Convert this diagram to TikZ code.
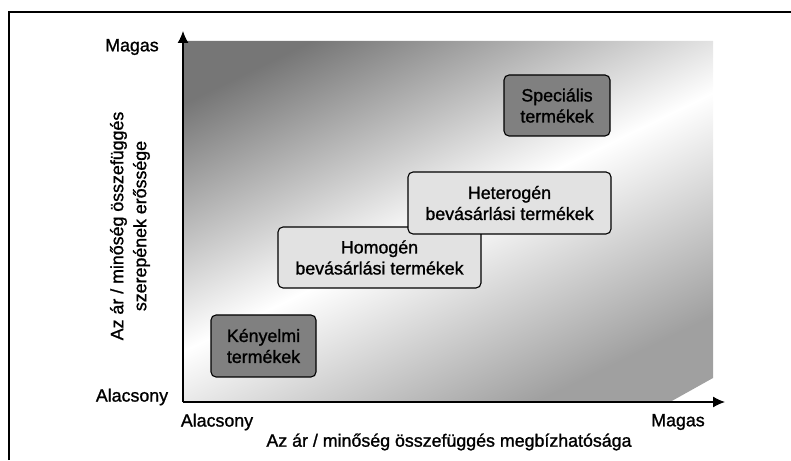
\documentclass[tikz,border=0pt]{standalone}
\usepackage{fontspec}
\setmainfont{Liberation Sans}[FakeBold=1.2]
\usetikzlibrary{arrows.meta,positioning}
\definecolor{darkfill}{RGB}{128,128,128}
\definecolor{lightfill}{RGB}{226,226,226}
\definecolor{planedark}{RGB}{118,118,118}
\definecolor{planelow}{RGB}{160,160,160}
\pgfdeclareverticalshading{planeshade}{100bp}{color(0bp)=(planelow); color(32bp)=(planelow); color(50bp)=(white); color(70bp)=(planedark); color(100bp)=(planedark)}
\tikzset{
  cat/.style={draw=black,line width=1.1pt,rounded corners=5pt,align=center,inner sep=0pt},
  darkcat/.style={cat,fill=darkfill},
  lightcat/.style={cat,fill=lightfill},
  axisline/.style={-{Latex[length=12pt,width=11pt]},draw=black,line width=1.3pt},
  lbl/.style={inner sep=1pt}
}

\begin{document}
\begin{tikzpicture}[x=1pt,y=1pt,font=\fontsize{17.8}{21}\selectfont]
  \useasboundingbox (0,0) rectangle (791,460);
  % frame
  \draw[line width=1.8pt] (9,0) -- (9,448) -- (791,448);
  % shaded plane with cut corner
  \begin{scope}
    \clip (183,58) -- (183,419) -- (713,419) -- (713,82) -- (670,58) -- cycle;
    \shade[shading=planeshade,shading angle=26] (168,-42) rectangle (728,518);
  \end{scope}
  \coordinate (origin) at (183,58);
  \coordinate (ytip) at (183,429);
  \coordinate (xtip) at (725,58);
  \draw[axisline] (origin) -- (ytip);
  \draw[axisline] (origin) -- (xtip);
  % axis labels
  \node[lbl] (yhigh) at (132,413) {Magas};
  \node[lbl] (ylow) at (132,63) {Alacsony};
  \node[lbl] (xlow) at (217,38) {Alacsony};
  \node[lbl] (xhigh) at (678,38) {Magas};
  \node[lbl] (xtitle) at (449,18) {Az ár / minőség összefüggés megbízhatósága};
  \node[lbl,rotate=90,align=center,font=\fontsize{17.8}{23}\selectfont] (ytitle) at (130,234)
    {Az ár / minőség összefüggés\\szerepének erőssége};
  % product groups
  \node[darkcat,minimum width=105pt,minimum height=62pt] (kenyelmi) at (263.5,114) {Kényelmi\\termékek};
  \node[lightcat,minimum width=203pt,minimum height=61pt] (homogen) at (379.5,202.5) {Homogén\\bevásárlási termékek};
  \node[lightcat,minimum width=203pt,minimum height=62pt] (heterogen) at (509.5,257) {Heterogén\\bevásárlási termékek};
  \node[darkcat,minimum width=106pt,minimum height=61pt] (specialis) at (557,354.5) {Speciális\\termékek};
\end{tikzpicture}
\end{document}
